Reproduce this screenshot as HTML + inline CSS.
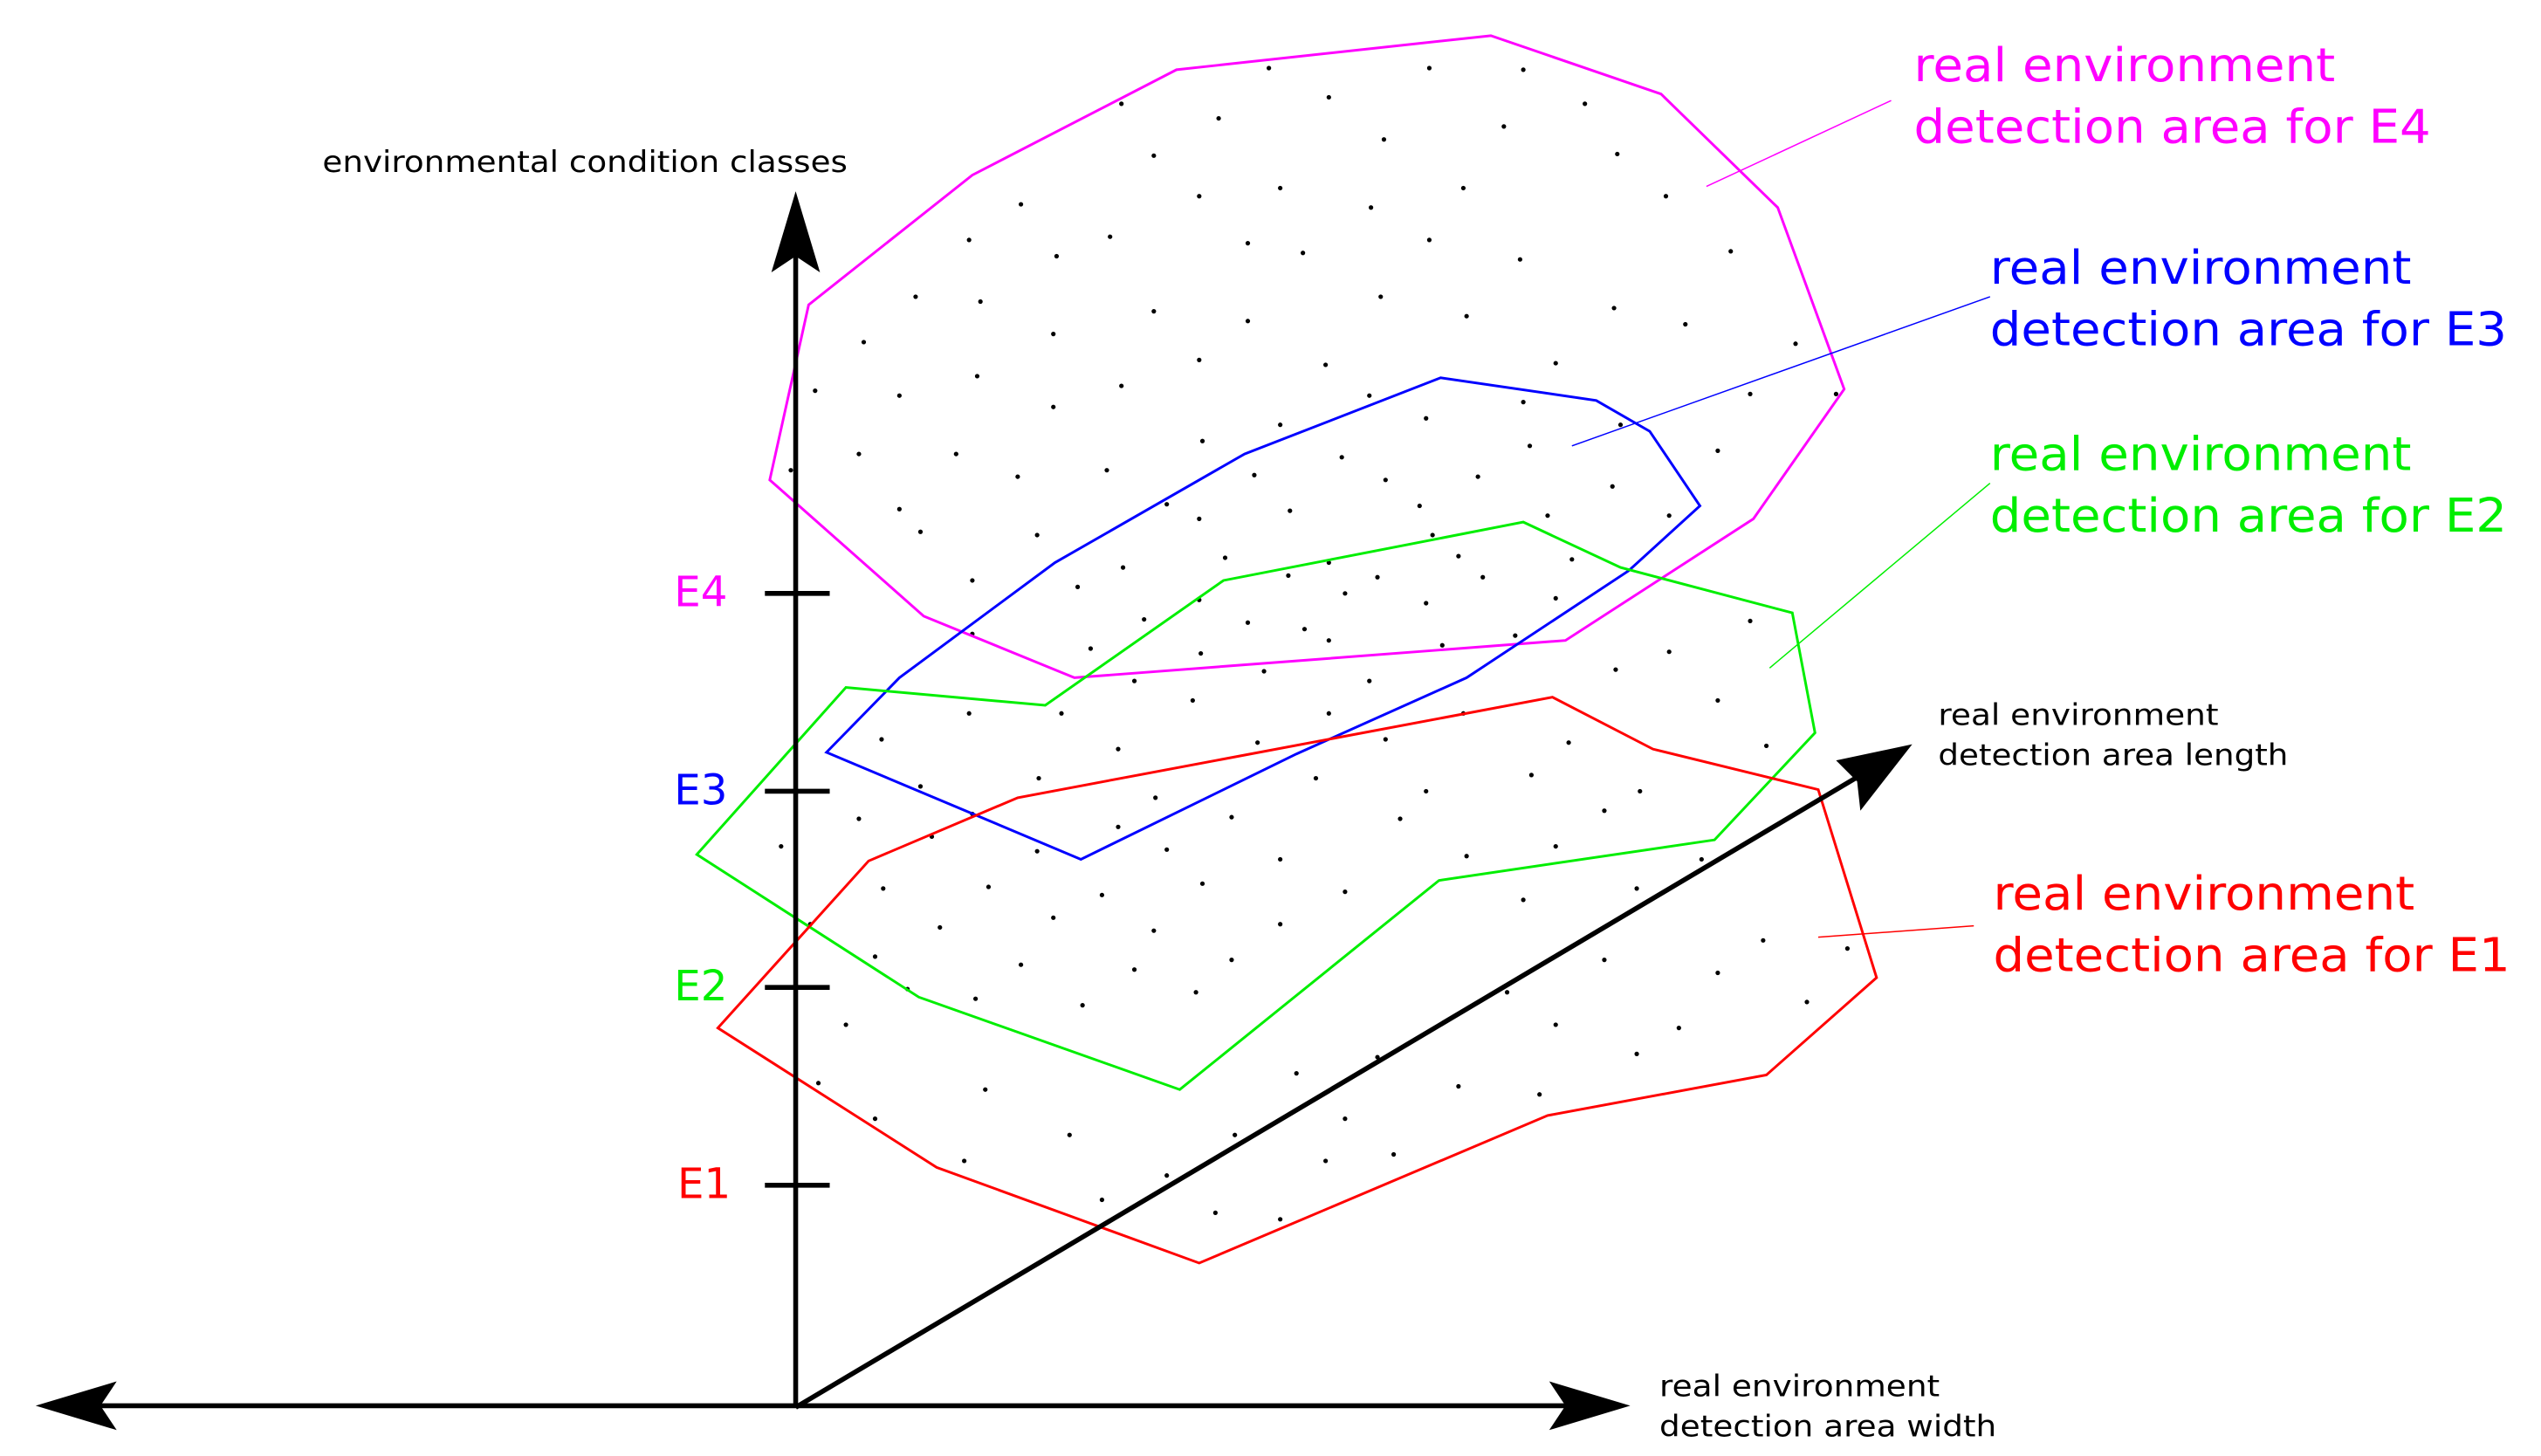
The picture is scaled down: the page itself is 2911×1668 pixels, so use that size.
<!DOCTYPE html>
<html><head><meta charset="utf-8"><style>
html,body{margin:0;padding:0;background:#fff;}
svg{display:block;}
text{font-family:"DejaVu Sans","Liberation Sans",sans-serif;}
</style></head><body>
<svg width="2911" height="1668" viewBox="0 0 1568 898" preserveAspectRatio="none" xmlns="http://www.w3.org/2000/svg">
<rect width="1568" height="898" fill="#fff"/>
<g fill="#000">
<circle cx="783" cy="42" r="1.4"/><circle cx="882" cy="42" r="1.4"/><circle cx="940" cy="43" r="1.4"/><circle cx="692" cy="64" r="1.4"/><circle cx="820" cy="60" r="1.4"/><circle cx="978" cy="64" r="1.4"/><circle cx="752" cy="73" r="1.4"/><circle cx="928" cy="78" r="1.4"/><circle cx="712" cy="96" r="1.4"/><circle cx="854" cy="86" r="1.4"/><circle cx="998" cy="95" r="1.4"/><circle cx="630" cy="126" r="1.4"/><circle cx="740" cy="121" r="1.4"/><circle cx="790" cy="116" r="1.4"/><circle cx="903" cy="116" r="1.4"/><circle cx="1028" cy="121" r="1.4"/><circle cx="846" cy="128" r="1.4"/><circle cx="598" cy="148" r="1.4"/><circle cx="685" cy="146" r="1.4"/><circle cx="770" cy="150" r="1.4"/><circle cx="882" cy="148" r="1.4"/><circle cx="1068" cy="155" r="1.4"/><circle cx="652" cy="158" r="1.4"/><circle cx="804" cy="156" r="1.4"/><circle cx="938" cy="160" r="1.4"/><circle cx="565" cy="183" r="1.4"/><circle cx="712" cy="192" r="1.4"/><circle cx="852" cy="183" r="1.4"/><circle cx="996" cy="190" r="1.4"/><circle cx="605" cy="186" r="1.4"/><circle cx="770" cy="198" r="1.4"/><circle cx="905" cy="195" r="1.4"/><circle cx="1040" cy="200" r="1.4"/><circle cx="533" cy="211" r="1.4"/><circle cx="650" cy="206" r="1.4"/><circle cx="740" cy="222" r="1.4"/><circle cx="960" cy="224" r="1.4"/><circle cx="1108" cy="212" r="1.4"/><circle cx="818" cy="225" r="1.4"/><circle cx="603" cy="232" r="1.4"/><circle cx="692" cy="238" r="1.4"/><circle cx="1080" cy="243" r="1.4"/><circle cx="503" cy="241" r="1.4"/><circle cx="555" cy="244" r="1.4"/><circle cx="845" cy="244" r="1.4"/><circle cx="940" cy="248" r="1.4"/><circle cx="650" cy="251" r="1.4"/><circle cx="1133" cy="243" r="1.4"/><circle cx="790" cy="262" r="1.4"/><circle cx="880" cy="258" r="1.4"/><circle cx="1000" cy="262" r="1.4"/><circle cx="530" cy="280" r="1.4"/><circle cx="590" cy="280" r="1.4"/><circle cx="742" cy="272" r="1.4"/><circle cx="828" cy="282" r="1.4"/><circle cx="944" cy="275" r="1.4"/><circle cx="1060" cy="278" r="1.4"/><circle cx="488" cy="290" r="1.4"/><circle cx="628" cy="294" r="1.4"/><circle cx="683" cy="290" r="1.4"/><circle cx="774" cy="293" r="1.4"/><circle cx="855" cy="296" r="1.4"/><circle cx="912" cy="294" r="1.4"/><circle cx="995" cy="300" r="1.4"/><circle cx="555" cy="314" r="1.4"/><circle cx="720" cy="311" r="1.4"/><circle cx="796" cy="315" r="1.4"/><circle cx="876" cy="312" r="1.4"/><circle cx="955" cy="318" r="1.4"/><circle cx="1030" cy="318" r="1.4"/><circle cx="568" cy="328" r="1.4"/><circle cx="640" cy="330" r="1.4"/><circle cx="740" cy="320" r="1.4"/><circle cx="884" cy="330" r="1.4"/><circle cx="693" cy="350" r="1.4"/><circle cx="756" cy="344" r="1.4"/><circle cx="820" cy="347" r="1.4"/><circle cx="900" cy="343" r="1.4"/><circle cx="970" cy="345" r="1.4"/><circle cx="600" cy="358" r="1.4"/><circle cx="665" cy="362" r="1.4"/><circle cx="795" cy="355" r="1.4"/><circle cx="850" cy="356" r="1.4"/><circle cx="915" cy="356" r="1.4"/><circle cx="740" cy="370" r="1.4"/><circle cx="830" cy="366" r="1.4"/><circle cx="880" cy="372" r="1.4"/><circle cx="960" cy="369" r="1.4"/><circle cx="706" cy="382" r="1.4"/><circle cx="770" cy="384" r="1.4"/><circle cx="805" cy="388" r="1.4"/><circle cx="935" cy="392" r="1.4"/><circle cx="1080" cy="383" r="1.4"/><circle cx="600" cy="391" r="1.4"/><circle cx="673" cy="400" r="1.4"/><circle cx="741" cy="403" r="1.4"/><circle cx="820" cy="395" r="1.4"/><circle cx="890" cy="398" r="1.4"/><circle cx="1030" cy="402" r="1.4"/><circle cx="700" cy="420" r="1.4"/><circle cx="780" cy="414" r="1.4"/><circle cx="845" cy="420" r="1.4"/><circle cx="997" cy="413" r="1.4"/><circle cx="598" cy="440" r="1.4"/><circle cx="655" cy="440" r="1.4"/><circle cx="736" cy="432" r="1.4"/><circle cx="820" cy="440" r="1.4"/><circle cx="903" cy="440" r="1.4"/><circle cx="1060" cy="432" r="1.4"/><circle cx="544" cy="456" r="1.4"/><circle cx="690" cy="462" r="1.4"/><circle cx="776" cy="458" r="1.4"/><circle cx="855" cy="456" r="1.4"/><circle cx="968" cy="458" r="1.4"/><circle cx="1090" cy="460" r="1.4"/><circle cx="568" cy="485" r="1.4"/><circle cx="641" cy="480" r="1.4"/><circle cx="713" cy="492" r="1.4"/><circle cx="812" cy="480" r="1.4"/><circle cx="880" cy="488" r="1.4"/><circle cx="945" cy="478" r="1.4"/><circle cx="1012" cy="488" r="1.4"/><circle cx="530" cy="505" r="1.4"/><circle cx="600" cy="502" r="1.4"/><circle cx="690" cy="510" r="1.4"/><circle cx="760" cy="504" r="1.4"/><circle cx="864" cy="505" r="1.4"/><circle cx="990" cy="500" r="1.4"/><circle cx="482" cy="522" r="1.4"/><circle cx="575" cy="516" r="1.4"/><circle cx="640" cy="525" r="1.4"/><circle cx="720" cy="524" r="1.4"/><circle cx="790" cy="530" r="1.4"/><circle cx="905" cy="528" r="1.4"/><circle cx="960" cy="522" r="1.4"/><circle cx="1050" cy="530" r="1.4"/><circle cx="545" cy="548" r="1.4"/><circle cx="610" cy="547" r="1.4"/><circle cx="680" cy="552" r="1.4"/><circle cx="742" cy="545" r="1.4"/><circle cx="830" cy="550" r="1.4"/><circle cx="940" cy="555" r="1.4"/><circle cx="1010" cy="548" r="1.4"/><circle cx="500" cy="570" r="1.4"/><circle cx="580" cy="572" r="1.4"/><circle cx="650" cy="566" r="1.4"/><circle cx="712" cy="574" r="1.4"/><circle cx="790" cy="570" r="1.4"/><circle cx="1088" cy="580" r="1.4"/><circle cx="1140" cy="585" r="1.4"/><circle cx="540" cy="590" r="1.4"/><circle cx="630" cy="595" r="1.4"/><circle cx="700" cy="598" r="1.4"/><circle cx="760" cy="592" r="1.4"/><circle cx="990" cy="592" r="1.4"/><circle cx="1060" cy="600" r="1.4"/><circle cx="560" cy="610" r="1.4"/><circle cx="602" cy="616" r="1.4"/><circle cx="668" cy="620" r="1.4"/><circle cx="738" cy="612" r="1.4"/><circle cx="930" cy="612" r="1.4"/><circle cx="1115" cy="618" r="1.4"/><circle cx="522" cy="632" r="1.4"/><circle cx="960" cy="632" r="1.4"/><circle cx="1036" cy="634" r="1.4"/><circle cx="850" cy="652" r="1.4"/><circle cx="1010" cy="650" r="1.4"/><circle cx="505" cy="668" r="1.4"/><circle cx="608" cy="672" r="1.4"/><circle cx="800" cy="662" r="1.4"/><circle cx="900" cy="670" r="1.4"/><circle cx="950" cy="675" r="1.4"/><circle cx="540" cy="690" r="1.4"/><circle cx="660" cy="700" r="1.4"/><circle cx="762" cy="700" r="1.4"/><circle cx="830" cy="690" r="1.4"/><circle cx="595" cy="716" r="1.4"/><circle cx="720" cy="725" r="1.4"/><circle cx="818" cy="716" r="1.4"/><circle cx="860" cy="712" r="1.4"/><circle cx="680" cy="740" r="1.4"/><circle cx="750" cy="748" r="1.4"/><circle cx="790" cy="752" r="1.4"/>
</g>
<g fill="none" stroke-width="1.6">
<polygon stroke="#ff00ff" points="726,43 920,22 1025,58 1097,128 1138,240 1082,320 966,395 663,418 570,380 475,296 499,188 600,108"/>
<polygon stroke="#0000ff" points="510,464 555,418 651,347 768,280 889,233 985,247 1018,266 1049,312 1005,352 905,418 800,465 667,530"/>
<polygon stroke="#00ee00" points="430,527 522,424 645,435 755,358 940,322 1000,350 1106,378 1120,452 1058,518 888,543 728,672 567,615"/>
<polygon stroke="#ff0000" points="443,634 536,531 628,492 958,430 1020,462 1122,487 1158,603 1090,663 955,688 740,779 578,720"/>
</g>
<g stroke-width="0.8">
<line x1="1167" y1="62" x2="1053" y2="115" stroke="#ff00ff"/>
<line x1="1228" y1="183" x2="970" y2="275" stroke="#0000ff"/>
<line x1="1228" y1="298" x2="1092" y2="412" stroke="#00ee00"/>
<line x1="1218" y1="571" x2="1122" y2="578" stroke="#ff0000"/>
</g>
<g stroke="#000" stroke-width="3" fill="#000">
<line x1="491" y1="868" x2="491" y2="150"/>
<line x1="50" y1="867" x2="980" y2="867"/>
<line x1="491" y1="868" x2="1155" y2="474"/>
<line x1="472" y1="366" x2="512" y2="366"/><line x1="472" y1="488" x2="512" y2="488"/><line x1="472" y1="609" x2="512" y2="609"/><line x1="472" y1="731" x2="512" y2="731"/>
<polygon stroke="none" points="491,118 506,168 491,158 476,168"/>
<polygon stroke="none" points="22,867 72,852 62,867 72,882"/>
<polygon stroke="none" points="1006,867 956,852 966,867 956,882"/>
<polygon stroke="none" points="1180,459 1148,500 1146,482 1133,469"/>
</g>
<g font-size="26">
<text x="416" y="374" fill="#ff00ff">E4</text>
<text x="416" y="496" fill="#0000ff">E3</text>
<text x="416" y="617" fill="#00ee00">E2</text>
<text x="418" y="739" fill="#ff0000">E1</text>
</g>
<g font-size="18" fill="#000">
<text x="199" y="106" textLength="324" lengthAdjust="spacingAndGlyphs">environmental condition classes</text>
<text x="1196" y="447" textLength="173" lengthAdjust="spacingAndGlyphs">real environment</text>
<text x="1196" y="472" textLength="216" lengthAdjust="spacingAndGlyphs">detection area length</text>
<text x="1024" y="861" textLength="173" lengthAdjust="spacingAndGlyphs">real environment</text>
<text x="1024" y="886" textLength="208" lengthAdjust="spacingAndGlyphs">detection area width</text>
</g>
<g font-size="29">
<text x="1181" y="50" fill="#ff00ff" textLength="260" lengthAdjust="spacingAndGlyphs">real environment</text>
<text x="1181" y="88" fill="#ff00ff" textLength="319" lengthAdjust="spacingAndGlyphs">detection area for E4</text>
<text x="1228" y="175" fill="#0000ff" textLength="260" lengthAdjust="spacingAndGlyphs">real environment</text>
<text x="1228" y="213" fill="#0000ff" textLength="319" lengthAdjust="spacingAndGlyphs">detection area for E3</text>
<text x="1228" y="290" fill="#00ee00" textLength="260" lengthAdjust="spacingAndGlyphs">real environment</text>
<text x="1228" y="328" fill="#00ee00" textLength="319" lengthAdjust="spacingAndGlyphs">detection area for E2</text>
<text x="1230" y="561" fill="#ff0000" textLength="260" lengthAdjust="spacingAndGlyphs">real environment</text>
<text x="1230" y="599" fill="#ff0000" textLength="319" lengthAdjust="spacingAndGlyphs">detection area for E1</text>
</g>
</svg>
</body></html>
